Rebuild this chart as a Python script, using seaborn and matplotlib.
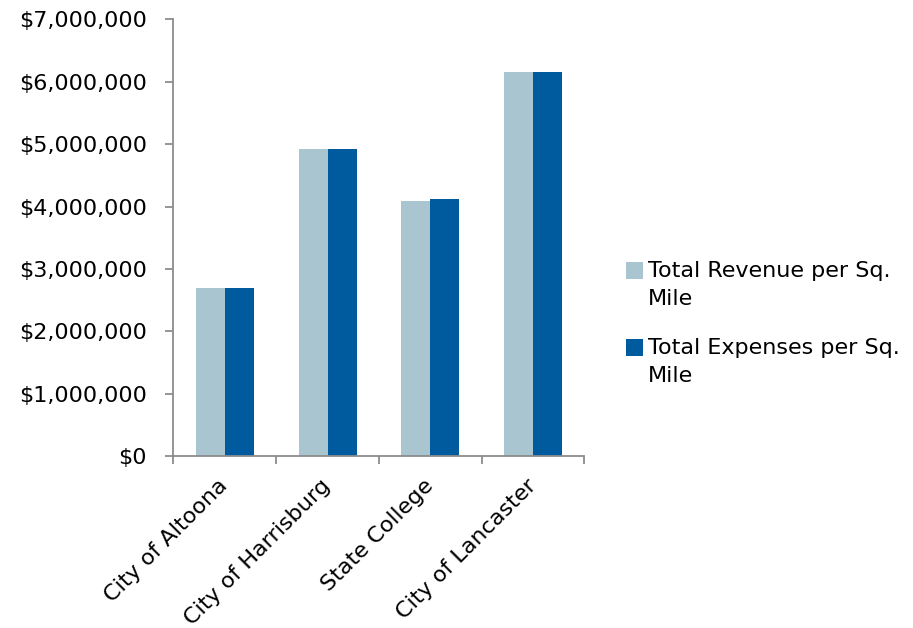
import matplotlib
matplotlib.use("Agg")
import matplotlib.pyplot as plt
import seaborn as sns
import pandas as pd
from matplotlib.ticker import FuncFormatter, FixedLocator
from matplotlib.patches import Rectangle
from matplotlib.legend_handler import HandlerPatch

categories = ["City of Altoona", "City of Harrisburg", "State College", "City of Lancaster"]
revenue = [2695000, 4918000, 4089000, 6153000]
expenses = [2695000, 4918000, 4121000, 6153000]
series_names = ["Total Revenue per Sq.\nMile", "Total Expenses per Sq.\nMile"]
yticks = [0, 1000000, 2000000, 3000000, 4000000, 5000000, 6000000, 7000000]

df = pd.DataFrame({
    "city": categories * 2,
    "value": revenue + expenses,
    "series": [series_names[0]] * 4 + [series_names[1]] * 4,
})

sns.set_style("white")
plt.rcParams["font.family"] = ["DejaVu Sans"]
plt.rcParams["text.color"] = "black"
plt.rcParams["xtick.labelcolor"] = "black"
plt.rcParams["ytick.labelcolor"] = "black"

FS = 16
LINESP = 1.5

fig = plt.figure(figsize=(9.13, 6.28), dpi=100)
ax = fig.add_axes([0.19, 0.274, 0.45, 0.695])

sns.barplot(data=df, x="city", y="value", hue="series", order=categories,
            hue_order=series_names, palette=["#A9C6D0", "#005A9E"],
            width=0.565, saturation=1, ax=ax, errorbar=None, linewidth=0)

ax.set_ylim(0, 7000000)
ax.set_xlim(-0.5, len(categories) - 0.5)
ax.set_yticks(yticks)
ax.yaxis.set_major_formatter(FuncFormatter(lambda v, p: "${:,.0f}".format(v)))
ax.set_xlabel("")
ax.set_ylabel("")

spine_col = "#8C8C8C"
for s in ["top", "right"]:
    ax.spines[s].set_visible(False)
for s in ["left", "bottom"]:
    ax.spines[s].set_color(spine_col)
    ax.spines[s].set_linewidth(1.3)

ax.tick_params(axis="y", which="major", direction="out", length=5.8, color=spine_col,
               width=1.3, labelsize=FS, pad=13.5, left=True, labelcolor="black")
ax.tick_params(axis="x", which="major", length=0, labelsize=FS, pad=19, labelcolor="black")
ax.xaxis.set_minor_locator(FixedLocator([i - 0.5 for i in range(len(categories) + 1)]))
ax.tick_params(axis="x", which="minor", direction="out", length=5.8, color=spine_col,
               width=1.3, bottom=True)
for lbl in ax.get_xticklabels():
    lbl.set_rotation(45)
    lbl.set_ha("right")
    lbl.set_va("center")
    lbl.set_rotation_mode("anchor")


class TopSquare(HandlerPatch):
    def create_artists(self, legend, orig_handle, xdescent, ydescent, width, height,
                       fontsize, trans):
        asc = 0.76 * fontsize
        d_ = 0.23 * fontsize
        pitch = LINESP * asc
        yb = 0.5 * pitch + 0.5 * d_
        side = 0.76 * fontsize
        p = Rectangle((-xdescent, yb - 0.05 * fontsize), side, side,
                      facecolor=orig_handle.get_facecolor(), edgecolor="none")
        p.set_transform(trans)
        return [p]


handles, labels = ax.get_legend_handles_labels()
handler_map = {h: TopSquare() for h in handles}
leg = ax.legend(handles, labels, loc="upper left", bbox_to_anchor=(626 / 913, 1 - 261 / 628),
                bbox_transform=fig.transFigure, frameon=False,
                fontsize=FS, handlelength=0.76, handleheight=0.8, handletextpad=0.22,
                labelspacing=1.3, borderpad=0, borderaxespad=0, handler_map=handler_map)
for t in leg.get_texts():
    t.set_linespacing(LINESP)
    t.set_color("black")

fig.savefig("out.png", dpi=100)
